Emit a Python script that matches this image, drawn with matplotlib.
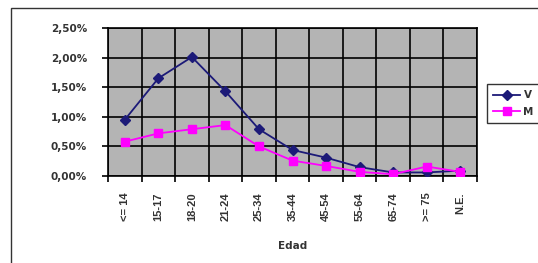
import matplotlib
matplotlib.use("Agg")
import matplotlib.pyplot as plt
from matplotlib.patches import Rectangle
from matplotlib.ticker import FuncFormatter, FixedLocator
import numpy as np

categories = ["<= 14", "15-17", "18-20", "21-24", "25-34", "35-44", "45-54", "55-64", "65-74", ">= 75", "N.E."]
v_values = [0.95, 1.65, 2.01, 1.43, 0.79, 0.44, 0.31, 0.15, 0.06, 0.06, 0.09]
m_values = [0.58, 0.72, 0.79, 0.86, 0.50, 0.26, 0.17, 0.07, 0.03, 0.16, 0.07]
y_ticks = [0.0, 0.5, 1.0, 1.5, 2.0, 2.5]

plt.rcParams['font.family'] = ['DejaVu Sans']

fig = plt.figure(figsize=(5.38, 2.63), dpi=100)
W, H = 538, 263
# outer frame
fig.patches.append(Rectangle((11 / W, -0.2), 1.2, (263 - 8) / 263 + 0.2, transform=fig.transFigure,
                             fill=False, edgecolor='#333333', linewidth=1.0))

ax = fig.add_axes([108 / W, (263 - 176) / 263, (477 - 108) / W, (176 - 28) / 263])
ax.set_facecolor('#b4b4b4')
x = np.arange(len(categories))
ax.plot(x, v_values, color='#1c1a78', marker='D', markersize=5, linewidth=1.3, label='V', zorder=3)
ax.plot(x, m_values, color='#ff00ff', marker='s', markersize=6, linewidth=1.3, label='M', zorder=3)

ax.set_xlim(-0.5, len(categories) - 0.5)
ax.set_ylim(0, 2.5)
ax.set_yticks(y_ticks)
ax.yaxis.set_major_formatter(FuncFormatter(lambda v, p: f"{v:.2f}%".replace('.', ',')))
ax.set_xticks(x)
ax.set_xticklabels(categories, rotation=90, family=['Liberation Sans', 'DejaVu Sans'], fontweight='bold')
ax.xaxis.set_minor_locator(FixedLocator(np.arange(-0.5, len(categories), 1.0)))
ax.tick_params(axis='x', which='major', length=0, pad=12, labelsize=8)
ax.tick_params(axis='x', which='minor', length=4, width=1.2, color='black')
ax.tick_params(axis='y', which='major', length=4, width=1.2, color='black', labelsize=7.5, pad=11)
for lab in ax.get_xticklabels() + ax.get_yticklabels():
    lab.set_fontweight('bold')
    lab.set_color('#333333')
ax.grid(True, which='minor', axis='x', color='black', linewidth=1.2)
ax.grid(True, which='major', axis='y', color='black', linewidth=1.2)
ax.set_axisbelow(True)
for s in ax.spines.values():
    s.set_color('black')
    s.set_linewidth(1.2)
ax.set_xlabel('Edad', fontsize=7.5, fontweight='bold', labelpad=14, color='#333333')

leg = fig.legend(loc='upper left', bbox_to_anchor=(487 / W, 1 - 84 / H), frameon=True, fancybox=False,
                 fontsize=7.5, handlelength=2.6, handletextpad=0.3, borderpad=0.6, labelspacing=0.6,
                 edgecolor='black', borderaxespad=0)
leg.get_frame().set_linewidth(1.0)
for t in leg.get_texts():
    t.set_fontweight('bold')
    t.set_color('#333333')

fig.savefig('out.png', dpi=100)
